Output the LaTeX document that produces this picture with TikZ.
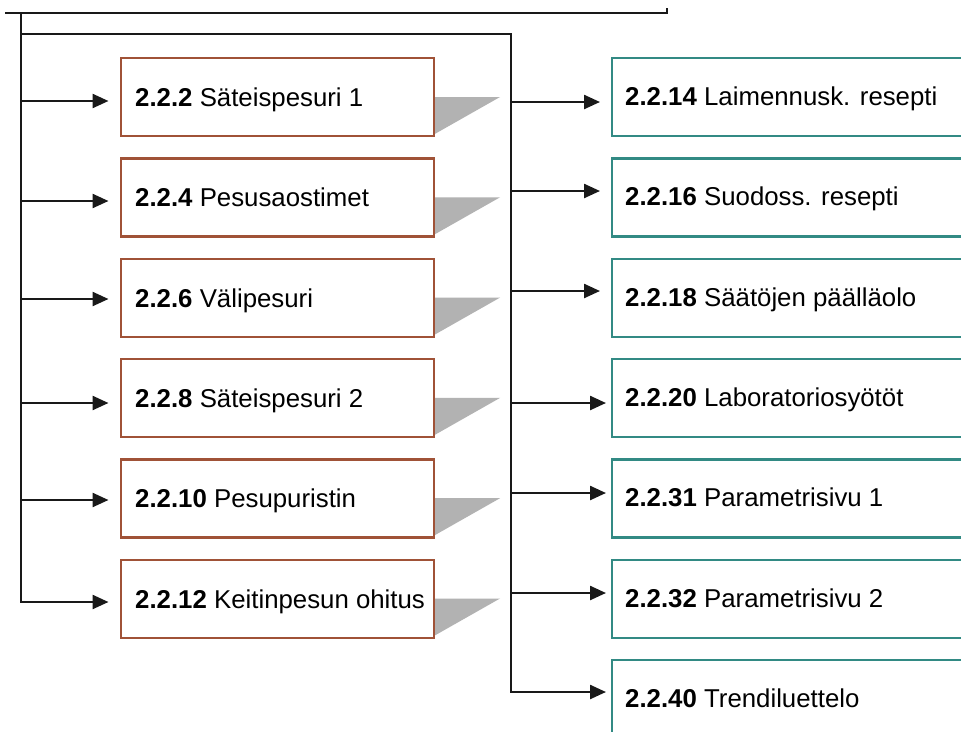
\documentclass[tikz,border=0pt]{standalone}
\usepackage{fontspec}
\setmainfont{Liberation Sans}
\usetikzlibrary{arrows.meta}
\definecolor{boxbrown}{RGB}{160,82,55}
\definecolor{boxteal}{RGB}{50,138,132}
\definecolor{shadegray}{RGB}{178,178,178}
\begin{document}
\begin{tikzpicture}[x=1pt,y=-1pt,
  conn/.style={line width=2.4pt, draw=black!90},
  arr/.style={conn, -{Triangle[length=16pt,width=14pt]}},
  lbox/.style={draw=boxbrown, line width=2.4pt, minimum width=313pt, minimum height=78pt, inner sep=0pt, anchor=north west},
  rbox/.style={draw=boxteal, line width=2.4pt, minimum width=380pt, minimum height=78pt, inner sep=0pt, anchor=north west},
  lbl/.style={anchor=base west, inner sep=0pt, font=\fontsize{25.8}{30}\selectfont}]
\useasboundingbox (0,0) rectangle (961,731);
\clip (0,0) rectangle (961,731);
\fill[white] (0,0) rectangle (961,731);
% left boxes with shadows
\foreach \i/\num/\txt in {1/2.2.2/Säteispesuri 1, 2/2.2.4/Pesusaostimet, 3/2.2.6/Välipesuri, 4/2.2.8/Säteispesuri 2, 5/2.2.10/Pesupuristin, 6/2.2.12/Keitinpesun ohitus}{
  \coordinate (c\i) at (120,{57+100.3*(\i-1)});
  \fill[shadegray] ([yshift=-40pt]c\i -| 433,0) -- ++(67,0) -- ([yshift=-78pt]c\i -| 433,0) -- cycle;
  \node[lbox] (b\i) at (c\i) {};
  \node[lbl] (bl\i) at ([xshift=15pt,yshift=-49.5pt]c\i) {\textbf{\num} \txt};
}
% right boxes
\foreach \j/\num/\txt in {1/2.2.14/Laimennusk. resepti, 2/2.2.16/Suodoss. resepti, 3/2.2.18/Säätöjen päälläolo, 4/2.2.20/Laboratoriosyötöt, 5/2.2.31/Parametrisivu 1, 6/2.2.32/Parametrisivu 2, 7/2.2.40/Trendiluettelo}{
  \node[rbox] (t\j) at (611,{57+100.3*(\j-1)}) {};
  \node[lbl] (tl\j) at ([xshift=14pt,yshift=-48.5pt]t\j.north west) {\textbf{\num} \txt};
}
% top line
\coordinate (topL) at (5,12.7);
\coordinate (topR) at (667,12.7);
\draw[conn] (topL) -- (topR) -- ++(0,-4.5);
% left bus
\coordinate (L0) at (20.7,12.7);
\foreach \i/\yy in {1/101, 2/201, 3/299, 4/403, 5/500}{
  \draw[arr, shorten >=11.5pt] (20.7,\yy) -- (b\i.west |- 20.7,\yy);
}
\draw[arr, shorten >=11.5pt] (L0) -- (20.7,602) -- (b6.west |- 20.7,602);
% right bus
\coordinate (R0) at (20.7,34);
\foreach \j/\yy/\gap in {1/102/11, 2/191/11, 3/291/11, 4/403/5, 5/493/5, 6/593/5}{
  \draw[arr, shorten >=\gap pt] (511,\yy) -- (t\j.west |- 511,\yy);
}
\draw[arr, shorten >=5pt] (R0) -- (511,34) -- (511,692) -- (t7.west |- 511,692);
\end{tikzpicture}
\end{document}
